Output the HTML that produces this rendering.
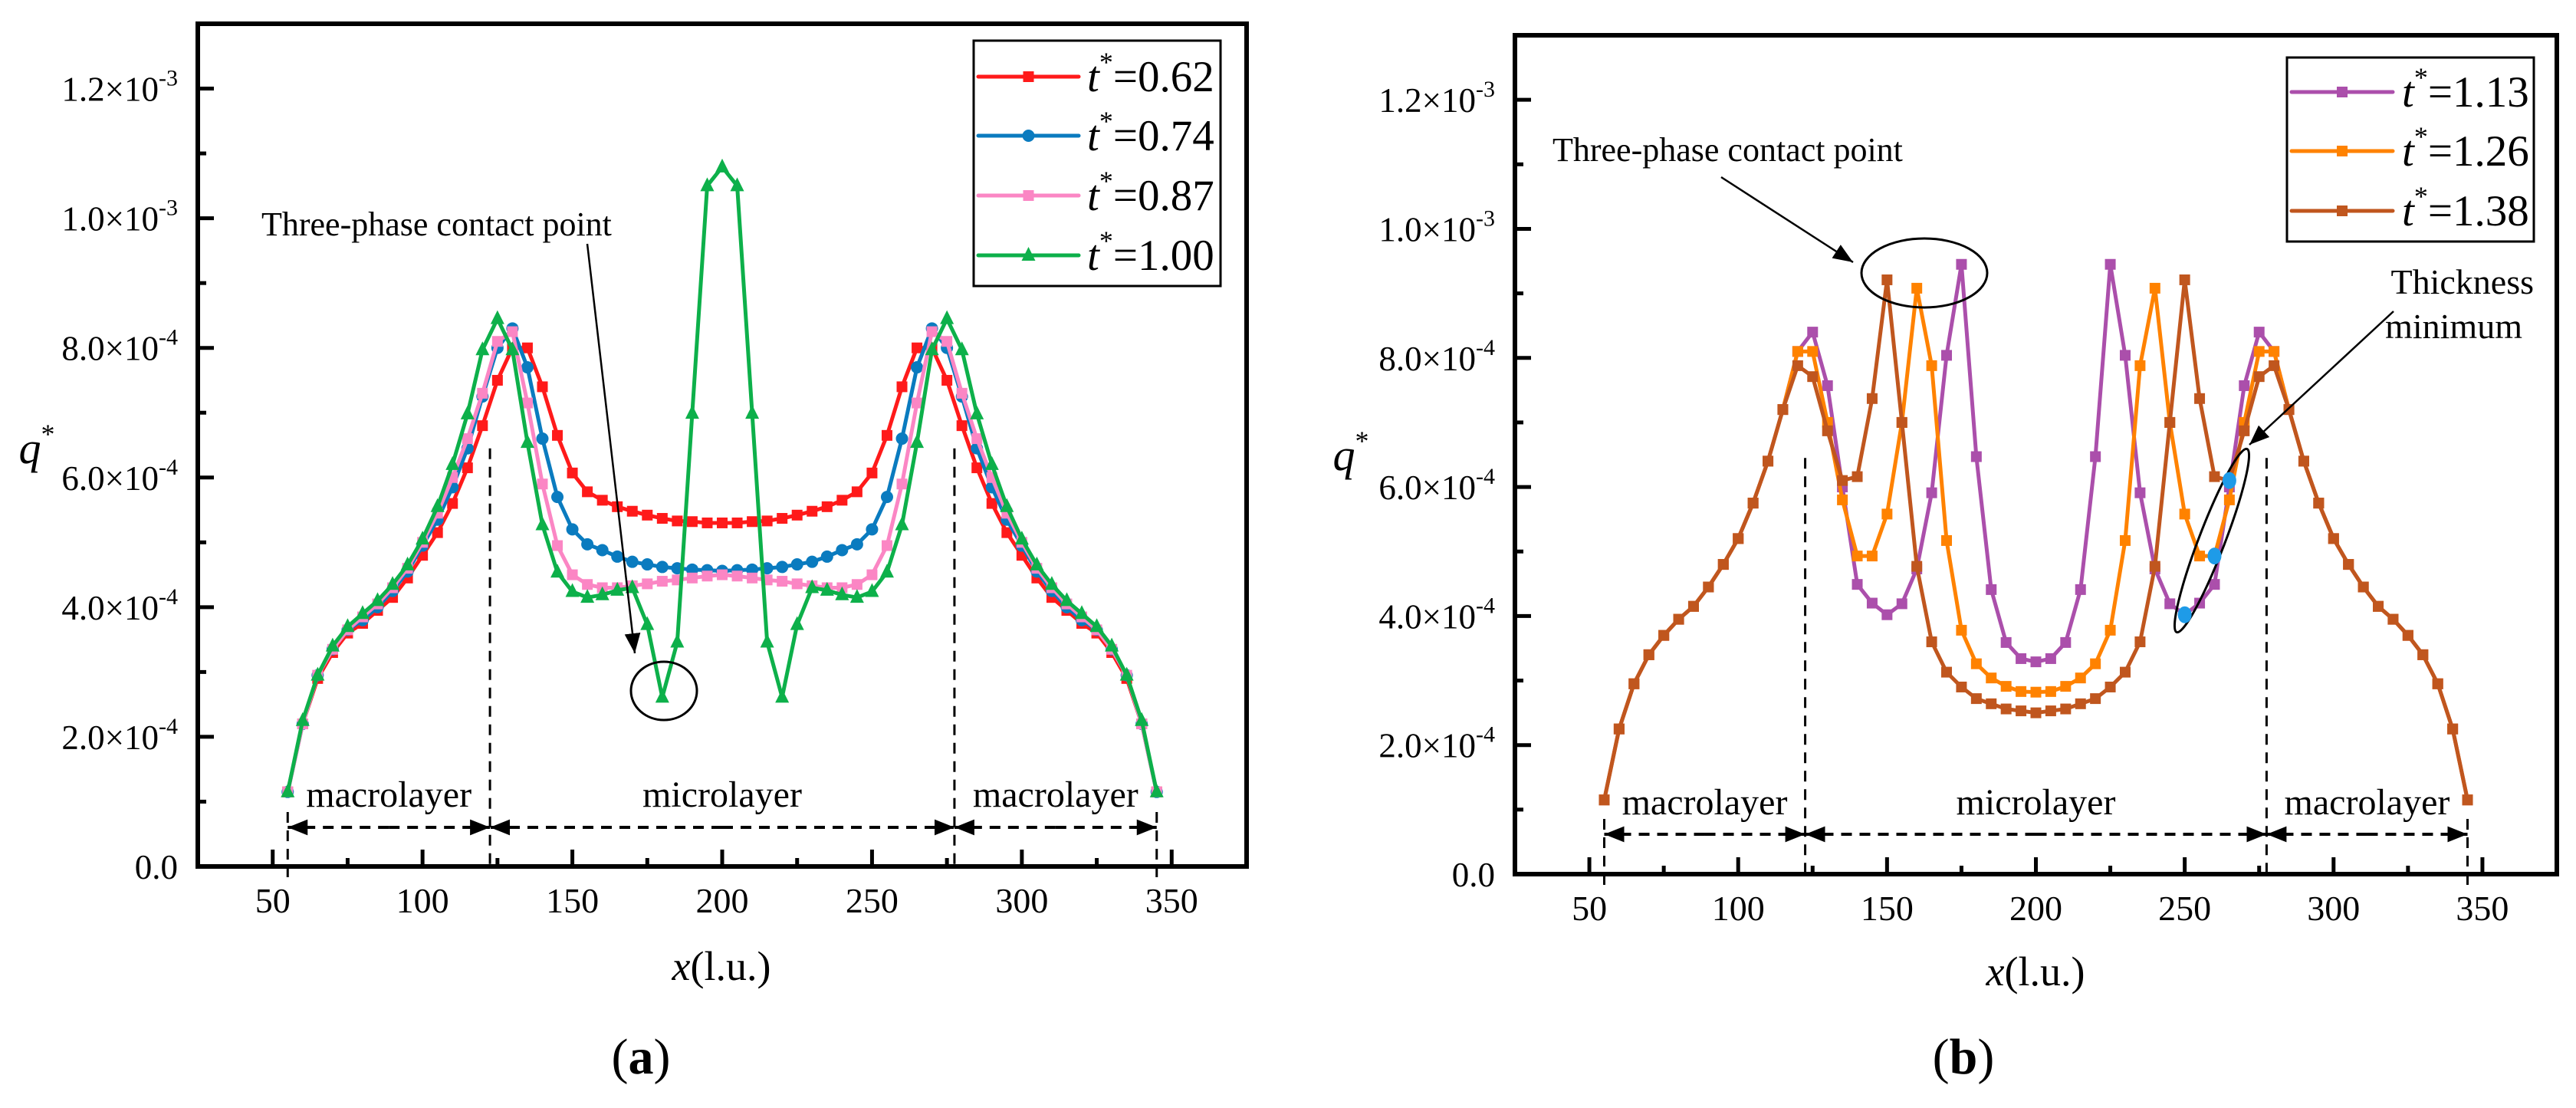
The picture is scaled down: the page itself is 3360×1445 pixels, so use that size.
<!DOCTYPE html>
<html><head><meta charset="utf-8">
<style>
html,body{margin:0;padding:0;background:#fff;}
svg, svg text{font-family:"Liberation Serif","Times New Roman",serif;}
</style></head>
<body>
<svg id="fig" width="3360" height="1440" viewBox="0 0 3360 1440" xmlns="http://www.w3.org/2000/svg" font-family="Liberation Serif, serif">
<defs>
<marker id="ah2" viewBox="0 0 10 10" refX="10" refY="5" markerWidth="26" markerHeight="26" markerUnits="userSpaceOnUse" orient="auto"><path d="M0,1 L10,5 L0,9 z" fill="#000"/></marker>
</defs>
</svg>
<script>
// ---------- data ----------
const xCats = [55,60,65,70,75,80,85,90,95,100,105,110,115,120,125,130,135,140,145,150,155,160,165,170,175,180,185,190,195,200,205,210,215,220,225,230,235,240,245,250,255,260,265,270,275,280,285,290,295,300,305,310,315,320,325,330,335,340,345];
const xTicks = [50,100,150,200,250,300,350];
const yTicksA = [0,2,4,6,8,10,12];
const yTickLabels = ["0.0","2.0×10","4.0×10","6.0×10","8.0×10","1.0×10","1.2×10"];
const yTickExp = ["","-4","-4","-4","-4","-3","-3"];
const serA1 = [1.15,2.2,2.9,3.3,3.6,3.75,3.95,4.15,4.45,4.8,5.15,5.6,6.15,6.8,7.5,8.0,8.0,7.4,6.65,6.07,5.78,5.65,5.55,5.48,5.42,5.37,5.33,5.32,5.3,5.3,5.3,5.32,5.33,5.37,5.42,5.48,5.55,5.65,5.78,6.07,6.65,7.4,8.0,8.0,7.5,6.8,6.15,5.6,5.15,4.8,4.45,4.15,3.95,3.75,3.6,3.3,2.9,2.2,1.15];
const serA2 = [1.15,2.2,2.95,3.35,3.65,3.8,4.0,4.25,4.55,4.95,5.35,5.85,6.45,7.25,8.0,8.3,7.7,6.6,5.7,5.2,4.97,4.88,4.78,4.7,4.66,4.62,4.6,4.58,4.57,4.56,4.57,4.58,4.6,4.62,4.66,4.7,4.78,4.88,4.97,5.2,5.7,6.6,7.7,8.3,8.0,7.25,6.45,5.85,5.35,4.95,4.55,4.25,4.0,3.8,3.65,3.35,2.95,2.2,1.15];
const serA3 = [1.15,2.2,2.95,3.35,3.65,3.85,4.05,4.3,4.6,5.0,5.45,6.0,6.6,7.3,8.1,8.25,7.15,5.9,4.95,4.5,4.35,4.3,4.3,4.33,4.36,4.4,4.42,4.45,4.48,4.5,4.48,4.45,4.42,4.4,4.36,4.33,4.3,4.3,4.35,4.5,4.95,5.9,7.15,8.25,8.1,7.3,6.6,6.0,5.45,5.0,4.6,4.3,4.05,3.85,3.65,3.35,2.95,2.2,1.15];
const serA4 = [1.15,2.25,2.95,3.4,3.7,3.9,4.1,4.35,4.65,5.05,5.55,6.2,6.98,7.97,8.45,7.97,6.54,5.27,4.54,4.24,4.15,4.19,4.26,4.3,3.73,2.61,3.46,6.99,10.5,10.79,10.5,6.99,3.46,2.61,3.73,4.3,4.26,4.19,4.15,4.24,4.54,5.27,6.54,7.97,8.45,7.97,6.98,6.2,5.55,5.05,4.65,4.35,4.1,3.9,3.7,3.4,2.95,2.25,1.15];
const serB1 = [1.15,2.25,2.95,3.4,3.7,3.95,4.15,4.45,4.8,5.2,5.75,6.4,7.2,8.1,8.4,7.57,6.0,4.49,4.2,4.02,4.19,4.73,5.91,8.04,9.45,6.47,4.41,3.59,3.34,3.29,3.34,3.59,4.41,6.47,9.45,8.04,5.91,4.73,4.19,4.02,4.2,4.49,6.0,7.57,8.4,8.1,7.2,6.4,5.75,5.2,4.8,4.45,4.15,3.95,3.7,3.4,2.95,2.25,1.15];
const serB2 = [1.15,2.25,2.95,3.4,3.7,3.95,4.15,4.45,4.8,5.2,5.75,6.4,7.2,8.1,8.1,7.0,5.8,4.93,4.93,5.58,7.0,9.08,7.88,5.17,3.78,3.26,3.04,2.91,2.83,2.82,2.83,2.91,3.04,3.26,3.78,5.17,7.88,9.08,7.0,5.58,4.93,4.93,5.8,7.0,8.1,8.1,7.2,6.4,5.75,5.2,4.8,4.45,4.15,3.95,3.7,3.4,2.95,2.25,1.15];
const serB3 = [1.15,2.25,2.95,3.4,3.7,3.95,4.15,4.45,4.8,5.2,5.75,6.4,7.2,7.88,7.71,6.87,6.1,6.16,7.37,9.21,7.0,4.77,3.6,3.13,2.9,2.72,2.64,2.56,2.53,2.5,2.53,2.56,2.64,2.72,2.9,3.13,3.6,4.77,7.0,9.21,7.37,6.16,6.1,6.87,7.71,7.88,7.2,6.4,5.75,5.2,4.8,4.45,4.15,3.95,3.7,3.4,2.95,2.25,1.15];
const highlightX = [250,260,265];
const highlightY = [4.02,4.93,6.1];
const legendA = ["0.62","0.74","0.87","1.00"];
const legendB = ["1.13","1.26","1.38"];

// ---------- drawing ----------
const NS = "http://www.w3.org/2000/svg";
const svg = document.getElementById("fig");
const FF = "Liberation Serif, Times New Roman, serif";
function mk(tag, attrs, parent){
  const e = document.createElementNS(NS, tag);
  for (const k in attrs) e.setAttribute(k, attrs[k]);
  if (tag==="text") e.setAttribute("font-family", FF);
  (parent||svg).appendChild(e);
  return e;
}

const panels = [
  {id:"a", L:258, R:1626, T:31, B:1130, series:[serA1,serA2,serA3,serA4], colors:["#ff1a1a","#0a7bbf","#fb86c4","#0db04a"], shapes:["sq","ci","sq","tri"], legend:legendA,
   leg:{x:1270,y:53,w:322,h:320,rows:[100,177,255,333],lx1:1276,lx2:1407,tx:1418}, yLabX:232, qx:48, qy:588, xlx:941, xly:1278, cap:"a", capx:836, capy:1400, arrowY:1079, labY:1052},
  {id:"b", L:1976, R:3335, T:46, B:1140, series:[serB1,serB2,serB3], colors:["#ab4fab","#ff8200","#c0561e"], shapes:["sq","sq","sq"], legend:legendB,
   leg:{x:2983,y:75,w:322,h:240,rows:[120,197,275],lx1:2989,lx2:3121,tx:3133}, yLabX:1950, qx:1762, qy:597, xlx:2655, xly:1285, cap:"b", capx:2561, capy:1400, arrowY:1088, labY:1062}
];

panels.forEach(p=>{
  const g = mk("g",{});
  
  
  const sx = v => p.L + (v-25)*(p.R-p.L)/350;
  const sy = v => p.B - v*(p.B-p.T)/13;
  for (let v=25; v<=375; v+=25){
    if (v===25||v===375) continue;
    const major = v%50===0;
    mk("line",{x1:sx(v),x2:sx(v),y1:p.B,y2:p.B-(major?22:11),stroke:"#000","stroke-width":5},g);
  }
  for (let v=1; v<=13; v++){
    const major = v%2===0;
    mk("line",{x1:p.L,x2:p.L+(major?21:11),y1:sy(v),y2:sy(v),stroke:"#000","stroke-width":5},g);
  }
  xTicks.forEach(v=>{
    const t = mk("text",{x:sx(v),y:p.B+60,"text-anchor":"middle","font-size":46},g);
    t.textContent = v;
    
    
  });
  yTicksA.forEach((v,i)=>{
    const t = mk("text",{x:p.yLabX,y:sy(v)+16,"text-anchor":"end","font-size":45},g);
    
    
    t.appendChild(document.createTextNode(yTickLabels[i]));
    if (yTickExp[i]){
      const s = mk("tspan",{dy:-20,"font-size":30},t);
      s.textContent = yTickExp[i];
    }
  });
  const fr = mk("rect",{x:p.L,y:p.T,width:p.R-p.L,height:p.B-p.T,fill:"none",stroke:"#000","stroke-width":6},g);
  
  
  const xa = sx(55), xb = sx(122.5), xc = sx(277.5), xd = sx(345);
  [[xa,p.arrowY-20],[xb,sy(6.45)],[xc,sy(6.45)],[xd,p.arrowY-20]].forEach(([x,y0])=>{
    const l = mk("line",{x1:x,x2:x,y1:y0,y2:p.B+ (x===xa||x===xd?14:0),stroke:"#000","stroke-width":3,"stroke-dasharray":"14,10"},g);
    
    
  });
  [[xb,xa],[xa,xb],[xc,xb],[xb,xc],[xd,xc],[xc,xd]].forEach(([x1,x2])=>{
    const m = (x1+x2)/2;
    const l = mk("line",{x1:m,x2:x2,y1:p.arrowY,y2:p.arrowY,stroke:"#000","stroke-width":4,"stroke-dasharray":"14,10","marker-end":"url(#ah2)"},g);
    
    
  });
  [["macrolayer",(xa+xb)/2],["microlayer",(xb+xc)/2],["macrolayer",(xc+xd)/2]].forEach(([s,x])=>{
    const t = mk("text",{x:x,y:p.labY,"text-anchor":"middle","font-size":48},g);
    t.textContent = s;
    
    
  });
  p.series.forEach((arr,si)=>{
    const c = p.colors[si];
    const sg = mk("g",{},g);
    
    
    const pts = arr.map((v,i)=>sx(xCats[i])+","+sy(v)).join(" ");
    mk("polyline",{points:pts,fill:"none",stroke:c,"stroke-width":5,"stroke-linejoin":"round"},sg);
    arr.forEach((v,i)=>{
      const x = sx(xCats[i]), y = sy(v);
      let m;
      if (p.shapes[si]==="sq") m = mk("rect",{x:x-7,y:y-7,width:14,height:14,fill:c},sg);
      else if (p.shapes[si]==="ci") m = mk("circle",{cx:x,cy:y,r:8,fill:c},sg);
      else m = mk("path",{d:`M${x},${y-11} L${x+9},${y+7} L${x-9},${y+7} Z`,fill:c},sg);
      
      
    });
  });
  const lg = mk("g",{},g);
  
  
  mk("rect",{x:p.leg.x,y:p.leg.y,width:p.leg.w,height:p.leg.h,fill:"#fff",stroke:"#000","stroke-width":3},lg);
  p.legend.forEach((s,i)=>{
    const y = p.leg.rows[i], c = p.colors[i], mx=(p.leg.lx1+p.leg.lx2)/2;
    const e = mk("g",{},lg);
    
    
    mk("line",{x1:p.leg.lx1,x2:p.leg.lx2,y1:y,y2:y,stroke:c,"stroke-width":5,"stroke-linecap":"round"},e);
    if (p.shapes[i]==="sq") mk("rect",{x:mx-7,y:y-7,width:14,height:14,fill:c},e);
    else if (p.shapes[i]==="ci") mk("circle",{cx:mx,cy:y,r:8,fill:c},e);
    else mk("path",{d:`M${mx},${y-11} L${mx+9},${y+7} L${mx-9},${y+7} Z`,fill:c},e);
    const t = mk("text",{x:p.leg.tx,y:y+19,"font-size":57},e);
    const ti = mk("tspan",{"font-style":"italic"},t); ti.textContent="t";
    const st = mk("tspan",{dy:-26,"font-size":36},t); st.textContent="*";
    const rest = mk("tspan",{dy:26},t); rest.textContent="="+s;
  });
  const q = mk("text",{x:p.qx,y:p.qy+16,"font-size":58,"font-style":"italic","text-anchor":"middle"},g);
  
  
  q.appendChild(document.createTextNode("q"));
  const qs = mk("tspan",{dy:-26,"font-size":36,"font-style":"normal"},q); qs.textContent="*";
  const xt = mk("text",{x:p.xlx,y:p.xly,"font-size":54,"text-anchor":"middle"},g);
  
  
  const xi = mk("tspan",{"font-style":"italic"},xt); xi.textContent="x";
  const xr = mk("tspan",{},xt); xr.textContent="(l.u.)";
  const cp = mk("text",{x:p.capx,y:p.capy,"font-size":66,"text-anchor":"middle"},g);
  
  
  cp.appendChild(document.createTextNode("("));
  const cb = mk("tspan",{"font-weight":"bold"},cp); cb.textContent=p.cap;
  cp.appendChild(document.createTextNode(")"));
  p.sx = sx; p.sy = sy; p.g = g;
});

(function(){
  const g = panels[0].g;
  const t = mk("text",{x:341,y:307,"font-size":44},g);
  t.textContent = "Three-phase contact point";
  
  
  const a = mk("line",{x1:766,y1:318,x2:828,y2:852,stroke:"#000","stroke-width":2.5,"marker-end":"url(#ah2)"},g);
  
  
  const e = mk("ellipse",{cx:866,cy:901,rx:43,ry:38,fill:"none",stroke:"#000","stroke-width":3},g);
  
  
})();
(function(){
  const p = panels[1], g = p.g;
  const t = mk("text",{x:2025,y:210,"font-size":44},g);
  t.textContent = "Three-phase contact point";
  
  
  const a = mk("line",{x1:2245,y1:231,x2:2417,y2:342,stroke:"#000","stroke-width":2.5,"marker-end":"url(#ah2)"},g);
  
  
  const e = mk("ellipse",{cx:2510,cy:356,rx:82,ry:45,fill:"none",stroke:"#000","stroke-width":3},g);
  
  
  const t1 = mk("text",{x:3305,y:383,"font-size":46,"text-anchor":"end"},g);
  t1.textContent = "Thickness";
  
  
  const t2 = mk("text",{x:3290,y:441,"font-size":46,"text-anchor":"end"},g);
  t2.textContent = "minimum";
  
  
  const a2 = mk("line",{x1:3122,y1:406,x2:2934,y2:580,stroke:"#000","stroke-width":2.5,"marker-end":"url(#ah2)"},g);
  
  
  const e2 = mk("ellipse",{cx:2885,cy:705,rx:128,ry:17,fill:"none",stroke:"#000","stroke-width":3,transform:"rotate(-69 2885 705)"},g);
  
  
  highlightX.forEach((x,i)=>{
    const c = mk("ellipse",{cx:p.sx(x),cy:p.sy(highlightY[i]),rx:9,ry:11,fill:"#1e9be8"},g);
    
    
  });
})();
</script>
</body></html>
